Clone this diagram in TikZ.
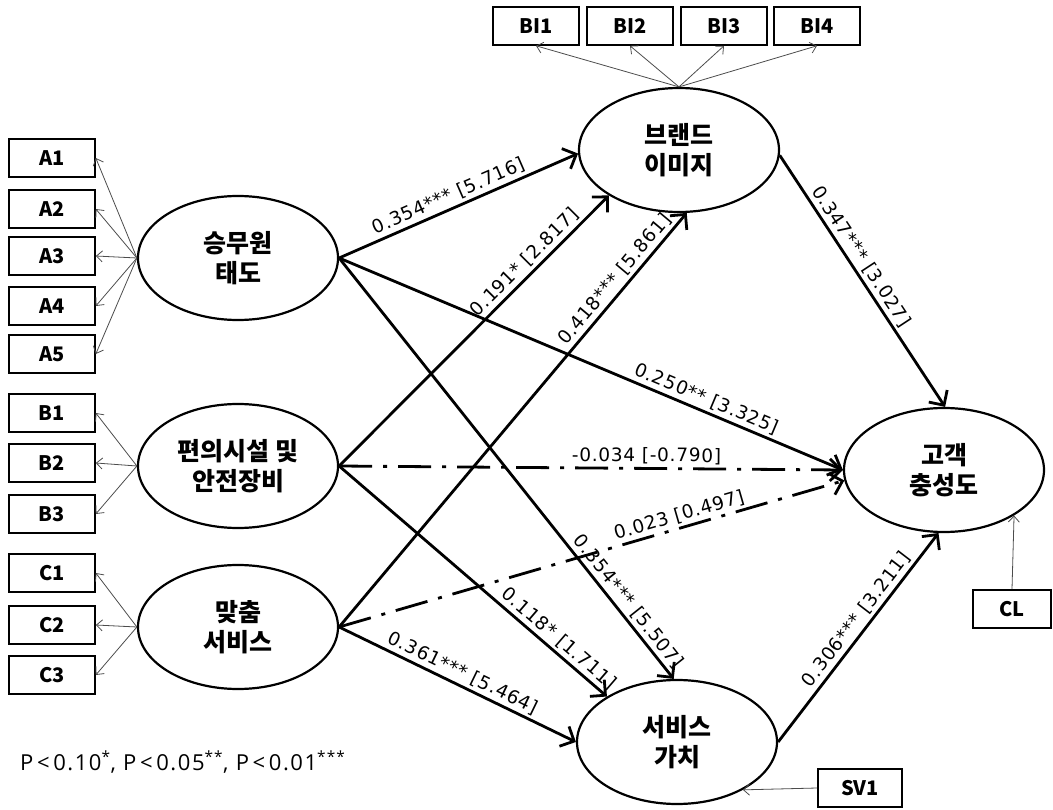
\documentclass[tikz,border=0pt]{standalone}
\usepackage{fontspec}
\setmainfont{Noto Sans CJK KR}
\newfontfamily\labfont[LetterSpace=4]{DejaVu Sans}
\newfontfamily\notefont[LetterSpace=7]{Open Sans}
\usetikzlibrary{arrows.meta,shapes.geometric}
\begin{document}
\begin{tikzpicture}[x=1pt,y=-1pt,
  lat/.style={ellipse,draw,line width=2.2pt,minimum width=200pt,minimum height=124pt,inner sep=0pt,align=center,font=\fontsize{25}{30}\selectfont\bfseries},
  obs/.style={draw,line width=1.6pt,minimum width=86pt,minimum height=38pt,inner sep=0pt,font=\fontsize{20}{22}\selectfont\bfseries},
  mes/.style={draw=black!70,line width=0.8pt,-{Straight Barb[length=6pt,width=11pt]}},
  pth/.style={line width=2.8pt,-{Straight Barb[length=11pt,width=22pt]}},
  dd/.style={pth,dash pattern=on 33pt off 11pt on 4pt off 11pt},
  lab/.style={sloped,above,font=\labfont\fontsize{18.5}{21}\selectfont,inner sep=3pt}
]
\useasboundingbox (0,0) rectangle (1053,810);

% latent variables
\node[lat] (s1) at (238,258) {승무원\\태도};
\node[lat] (s2) at (238,466) {편의시설 및\\안전장비};
\node[lat] (s3) at (238,627) {맞춤\\서비스};
\node[lat] (bi) at (679,150) {브랜드\\이미지};
\node[lat] (cl) at (944,470) {고객\\충성도};
\node[lat] (sv) at (677,742) {서비스\\가치};

% indicators
\node[obs] (A1) at (52,158) {A1};
\node[obs] (A2) at (52,209) {A2};
\node[obs] (A3) at (52,256) {A3};
\node[obs] (A4) at (52,306) {A4};
\node[obs] (A5) at (52,354) {A5};
\node[obs] (B1) at (52,413) {B1};
\node[obs] (B2) at (52,463) {B2};
\node[obs] (B3) at (52,514) {B3};
\node[obs] (C1) at (52,573) {C1};
\node[obs] (C2) at (52,625) {C2};
\node[obs] (C3) at (52,675) {C3};
\node[obs] (BI1) at (536,26) {BI1};
\node[obs] (BI2) at (630,26) {BI2};
\node[obs] (BI3) at (724,26) {BI3};
\node[obs] (BI4) at (817,26) {BI4};
\node[obs,minimum width=78pt] (CL) at (1012,609) {CL};
\node[obs,minimum width=84pt] (SV1) at (860,788) {SV1};

% measurement arrows
\foreach \b in {A1,A2,A3,A4,A5} \draw[mes] (s1.west) -- (\b.east);
\foreach \b in {B1,B2,B3} \draw[mes] (s2.west) -- (\b.east);
\foreach \b in {C1,C2,C3} \draw[mes] (s3.west) -- (\b.east);
\foreach \b in {BI1,BI2,BI3,BI4} \draw[mes] (bi.north) -- (\b.south);
\draw[mes] (CL.north) -- (cl.-33);
\draw[mes] (SV1.west) -- (sv.-36);

% structural paths
\draw[pth] (s1.east) -- node[lab,pos=0.48] {0.354*** [5.716]} (bi.182);
\draw[pth] (s2.east) -- node[lab,pos=0.72] {0.191* [2.817]} (bi.213);
\draw[pth] (s3.east) -- node[lab,pos=0.82] {0.418*** [5.861]} (bi.277);
\draw[pth] (s1.east) -- node[lab,pos=0.72] {0.250** [3.325]} (cl.180);
\draw[dd] (s2.east) -- node[lab,pos=0.61] {-0.034 [-0.790]} (cl.180);
\draw[dd] (s3.east) -- node[lab,pos=0.68] {0.023 [0.497]} (cl.186);
\draw[pth] (s1.east) -- node[lab,pos=0.835] {0.354*** [5.507]} (sv.93);
\draw[pth] (s2.east) -- node[lab,pos=0.79] {0.118* [1.711]} (sv.147);
\draw[pth] (s3.east) -- node[lab,pos=0.5] {0.361*** [5.464]} (sv.west);
\draw[pth] (bi.-3) -- node[lab,pos=0.43] {0.347*** [3.027]} (cl.89);
\draw[pth] (sv.east) -- node[lab,pos=0.55] {0.306*** [3.211]} (cl.265);

% note
\node[anchor=base west,inner sep=0pt,font=\notefont\fontsize{22}{24}\selectfont] (note) at (20,770) {P\,<\,0.10\textsuperscript{*}, P\,<\,0.05\textsuperscript{**}, P\,<\,0.01\textsuperscript{***}};
\end{tikzpicture}
\end{document}
